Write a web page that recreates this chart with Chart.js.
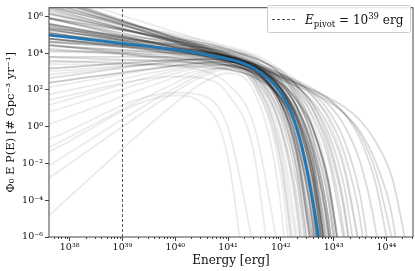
<!DOCTYPE html>
<html>
<head>
<meta charset="utf-8">
<script src="https://cdn.jsdelivr.net/npm/chart.js@4.4.1/dist/chart.umd.min.js"></script>
<style>
  html, body { margin: 0; padding: 0; background: #fff; }
  canvas { display: block; }
</style>
</head>
<body>
<canvas id="myChart" width="415" height="271"></canvas>
<script>
// energy grid shared by the posterior sample curves [erg]
const sampleEnergies = [4e37, 1e40, 3.2e40, 1e41, 3.2e41, 1e42, 2e42, 4e42, 8e42, 1.6e43, 3.2e43, 6.3e43, 1.3e44, 3.2e44];

// log10 of Phi0 E P(E) for each sample curve
const sampleLogRates = [
  [4.6, 4.1, 3.9, 3.7, 3.1, 1.5, -0.7, -5.1, -13.8],
  [5.3, 4.3, 4.1, 3.8, 3.3, 2.1, 0.6, -2.2, -7.8],
  [4.8, 4.0, 3.8, 3.6, 3.0, 1.5, -0.5, -4.5, -12.2],
  [5.6, 4.4, 4.1, 3.8, 3.3, 2.3, 1.1, -1.2, -5.7, -14.5],
  [4.4, 4.0, 3.9, 3.6, 3.0, 1.3, -1.2, -6.1],
  [5.1, 4.2, 4.0, 3.7, 3.2, 2.0, 0.35, -2.8, -9.0],
  [5.9, 4.5, 4.2, 3.8, 3.3, 2.4, 1.4, -0.5, -4.1, -11.1],
  [4.1, 3.9, 3.8, 3.5, 2.9, 1.0, -1.8, -7.3],
  [5.3, 4.2, 4.0, 3.65, 3.2, 2.1, 0.75, -1.8, -6.8],
  [4.8, 4.2, 4.0, 3.8, 3.2, 1.8, -0.2, -4.1, -11.9],
  [5.1, 4.1, 3.9, 3.6, 3.1, 1.9, 0.4, -2.4, -8.0],
  [6.3, 4.6, 4.2, 3.85, 3.4, 2.65, 1.9, 0.6, -1.8, -6.3],
  [3.8, 3.8, 3.7, 3.5, 2.8, 0.7, -2.3, -8.4],
  [5.6, 4.3, 4.0, 3.7, 3.2, 2.25, 1.1, -1.0, -5.0, -12.8],
  [4.8, 4.1, 3.9, 3.6, 3.0, 1.3, -0.9, -5.3, -14.1],
  [5.55, 4.35, 4.1, 3.8, 3.35, 2.6, 1.7, 0.0, -3.2, -9.5],
  [6.6, 4.7, 4.3, 3.9, 3.4, 2.75, 2.2, 1.25, -0.35, -3.3, -9.0],
  [3.5, 3.65, 3.65, 3.45, 2.75, 0.45, -3.0, -9.7],
  [5.9, 4.3, 4.0, 3.6, 3.1, 2.35, 1.45, -0.1, -3.0, -8.7],
  [5.4, 4.4, 4.15, 3.85, 3.3, 2.05, 0.4, -2.8, -9.0],
  [6.8, 4.7, 4.3, 3.85, 3.4, 2.8, 2.35, 1.65, 0.55, -1.45, -5.1, -12.2],
  [6.8, 4.65, 4.2, 3.75, 3.25, 2.75, 2.35, 1.9, 1.2, 0.05, -1.95, -5.65, -12.7],
  [7.1, 4.8, 4.35, 3.87, 3.38, 2.86, 2.5, 2.08, 1.52, 0.7, -0.68, -3.13, -7.73],
  [7.0, 4.6, 4.1, 3.6, 3.09, 2.56, 2.21, 1.83, 1.36, 0.71, -0.27, -1.94, -4.96, -13.6],
  [6.4, 4.62, 4.24, 3.83, 3.36, 2.69, 2.03, 0.95, -1.0, -4.66, -11.7],
  [7.0, 4.85, 4.4, 3.93, 3.45, 2.88, 2.44, 1.82, 0.87, -0.77, -3.76, -9.47],
  [6.47, 4.55, 4.14, 3.72, 3.26, 2.68, 2.16, 1.38, 0.05, -2.35, -6.91],
  [7.2, 4.8, 4.3, 3.8, 3.28, 2.75, 2.39, 1.98, 1.47, 0.73, -0.43, -2.45, -6.18],
  [2.83, 3.51, 3.56, 3.42, 2.63, -0.19, -4.42, -13.0],
  [2.15, 3.3, 3.43, 3.3, 2.37, -1.11, -6.4],
  [1.18, 3.05, 3.33, 3.35, 2.57, -0.76, -5.96, -16.6],
  [0.11, 2.68, 3.08, 3.16, 2.22, -1.93, -8.42],
  [3.02, 3.46, 3.48, 3.31, 2.58, 0.03, -3.76, -11.4],
  [-1.15, 2.38, 2.98, 3.26, 2.52, -1.43, -7.8],
  [-2.8, 1.91, 2.73, 3.13, 2.26, -2.66, -10.7],
  [-4.84, 1.29, 2.36, 2.91, 1.85, -4.3, -14.4],
  [0.79, 2.9, 3.25, 3.36, 2.76, -0.12, -4.7, -14.1],
  [2.64, 3.57, 3.69, 3.66, 3.11, 0.95, -2.36, -9.06],
  [-2.12, 2.12, 2.86, 3.23, 2.46, -1.92, -9.06],
  [1.76, 3.16, 3.36, 3.37, 2.73, 0.06, -4.08, -12.5],
  [6.14, 4.69, 4.36, 3.96, 3.37, 2.13, 0.58, -2.32, -7.94],
  [4.47, 3.74, 3.57, 3.34, 2.96, 2.06, 0.88, -1.37, -5.78, -14.5],
  [6.53, 4.84, 4.47, 4.04, 3.46, 2.36, 1.06, -1.31, -5.84, -14.7],
  [3.79, 3.54, 3.46, 3.31, 2.97, 1.98, 0.58, -2.17, -7.64],
  [4.15, 3.99, 3.89, 3.63, 2.86, 0.48, -2.97, -9.8],
  [6.92, 4.87, 4.43, 3.96, 3.38, 2.49, 1.55, -0.08, -3.05, -8.75],
  [-1.35, 1.7, 1.27, -1.71, -12.8],
  [-0.68, 1.86, 1.71, -0.05, -6.9],
  [7.1, 4.7, 4.2, 3.7, 3.19, 2.67, 2.35, 1.99, 1.58, 1.07, 0.33, -0.83, -2.85, -8.46],
  [6.63, 4.95, 4.58, 4.2, 3.73, 3.0, 2.25, 0.95, -1.42, -5.95, -14.8],
  [7.31, 5.15, 4.69, 4.22, 3.71, 3.08, 2.53, 1.72, 0.36, -2.07, -6.66],
  [5.95, 4.74, 4.47, 4.16, 3.73, 2.88, 1.87, 0.0, -3.58, -10.55],
  [5.22, 4.49, 4.31, 4.06, 3.62, 2.53, 1.07, -1.74, -7.27],
  [4.23, 3.73, 3.6, 3.38, 2.9, 1.62, -0.16, -3.65, -10.5],
  [3.4, 3.29, 3.06, 2.31, -0.05, -7.5],
  [1.46, 2.73, 2.65, 1.77, -1.66, -13.2],
  [3.17, 3.62, 3.66, 3.58, 3.08, 1.31, -1.35, -6.73],
  [5.5, 4.16, 3.85, 3.47, 2.86, 1.54, -0.16, -3.39, -9.62],
  [6.19, 4.62, 4.29, 3.93, 3.51, 2.89, 2.26, 1.21, -0.71, -4.34, -11.35],
  [2.39, 3.33, 3.48, 3.53, 3.26, 1.97, -0.07, -4.27, -12.8],
  [5.37, 4.63, 4.44, 4.16, 3.59, 2.11, 0.09, -3.85, -11.6],
  [4.47, 3.61, 3.41, 3.14, 2.67, 1.56, 0.08, -2.75, -8.29],
  [5.9, 4.81, 4.57, 4.27, 3.81, 2.84, 1.61, -0.69, -5.14, -13.9],
  [3.59, 3.34, 3.25, 3.1, 2.71, 1.61, 0.05, -3.04, -9.14],
  [4.98, 4.48, 4.32, 4.06, 3.43, 1.66, -0.83, -5.74, -15.5],
  [6.49, 5.04, 4.73, 4.37, 3.91, 3.08, 2.13, 0.42, -2.82, -9.07],
  [5.15, 3.94, 3.67, 3.34, 2.86, 1.86, 0.62, -1.69, -6.16],
  [4.64, 4.25, 4.11, 3.85, 3.18, 1.24, -1.53, -7.02]
];

// median curve (blue)
const medianEnergies = [4e37, 1e38, 3.2e38, 1e39, 3.2e39, 1e40, 3.2e40, 1e41, 1.8e41, 3.2e41, 5.6e41, 1e42, 1.6e42, 2.5e42, 3.5e42, 5e42, 6.3e42];
const medianLogRates = [4.99, 4.86, 4.70, 4.54, 4.37, 4.19, 3.96, 3.68, 3.49, 3.16, 2.66, 1.82, 0.74, -1.1, -3.1, -5.7, -8.0];

const pivotEnergy = 1e39;

// axis ranges and tick labels (exponents of 10)
const xRange = [4.06e37, 3.19e44];
const yRange = [1e-6, 3.0e6];
const xTickExponents = [38, 39, 40, 41, 42, 43, 44];
const yTickExponents = [-6, -4, -2, 0, 2, 4, 6];

const SUP = {'-': '\u207B', '0': '\u2070', '1': '\u00B9', '2': '\u00B2', '3': '\u00B3',
  '4': '\u2074', '5': '\u2075', '6': '\u2076', '7': '\u2077', '8': '\u2078', '9': '\u2079'};
function powLabel(v) {
  const e = Math.round(Math.log10(v));
  return '10' + String(e).split('').map(c => SUP[c]).join('');
}

const SERIF = "'DejaVu Serif', serif";

// curves close to the median overlap a lot, so give them more ink
const med41 = medianLogRates[medianEnergies.indexOf(1e41)];
const med42 = medianLogRates[medianEnergies.indexOf(1e42)];

const datasets = [];
sampleLogRates.forEach(rates => {
  const dev = Math.max(Math.abs(rates[3] - med41), Math.abs(rates[5] - med42) / 2);
  const alpha = dev < 0.3 ? 0.22 : (dev < 0.6 ? 0.14 : 0.08);
  datasets.push({
    data: rates.map((r, i) => ({ x: sampleEnergies[i], y: Math.pow(10, r) })),
    borderColor: 'rgba(0,0,0,' + alpha + ')',
    borderWidth: 1.8,
    pointRadius: 0,
    cubicInterpolationMode: 'monotone',
    order: 2
  });
});
datasets.push({
  data: [{ x: pivotEnergy, y: yRange[0] }, { x: pivotEnergy, y: yRange[1] }],
  borderColor: '#555',
  borderWidth: 1,
  borderDash: [3, 2],
  pointRadius: 0,
  order: 1
});
datasets.push({
  data: medianLogRates.map((r, i) => ({ x: medianEnergies[i], y: Math.pow(10, r) })),
  borderColor: '#1f77b4',
  borderWidth: 2.8,
  pointRadius: 0,
  cubicInterpolationMode: 'monotone',
  order: 0
});

// frame, minor ticks and the legend box
const decorations = {
  id: 'decorations',
  afterDraw(chart) {
    const { ctx, chartArea: a, scales } = chart;
    ctx.save();
    ctx.strokeStyle = '#444';
    ctx.lineWidth = 1;
    ctx.strokeRect(a.left, a.top, a.right - a.left, a.bottom - a.top);

    // minor ticks on the energy axis
    ctx.beginPath();
    for (let n = 37; n <= 44; n++) {
      for (let m = 2; m <= 9; m++) {
        const v = m * Math.pow(10, n);
        if (v < xRange[0] || v > xRange[1]) continue;
        const px = Math.round(scales.x.getPixelForValue(v)) + 0.5;
        ctx.moveTo(px, a.bottom);
        ctx.lineTo(px, a.bottom + 2);
      }
    }
    ctx.stroke();

    // legend
    const bx = a.right - 146, by = 5, bw = 143, bh = 27;
    ctx.beginPath();
    ctx.roundRect(bx + 0.5, by + 0.5, bw, bh, 2);
    ctx.fillStyle = 'rgba(255,255,255,0.85)';
    ctx.fill();
    ctx.strokeStyle = '#ccc';
    ctx.stroke();

    ctx.beginPath();
    ctx.setLineDash([3, 2]);
    ctx.strokeStyle = '#555';
    ctx.moveTo(bx + 5, by + 14.5);
    ctx.lineTo(bx + 29, by + 14.5);
    ctx.stroke();
    ctx.setLineDash([]);

    ctx.fillStyle = '#111';
    ctx.textBaseline = 'alphabetic';
    let tx = bx + 38;
    const base = by + 19;
    const parts = [
      ['italic 12px ' + SERIF, 'E', 0],
      ['8.5px ' + SERIF, 'pivot', 3],
      ['12px ' + SERIF, ' = 10', 0],
      ['8.5px ' + SERIF, '39', -5],
      ['12px ' + SERIF, ' erg', 0]
    ];
    parts.forEach(([font, txt, dy]) => {
      ctx.font = font;
      ctx.fillText(txt, tx, base + dy);
      tx += ctx.measureText(txt).width;
    });
    ctx.restore();
  }
};

const ctx = document.getElementById('myChart').getContext('2d');
const myChart = new Chart(ctx, {
  type: 'line',
  data: { datasets: datasets },
  options: {
    responsive: false,
    animation: false,
    devicePixelRatio: 1,
    events: [],
    layout: { padding: { top: 2, right: 2, left: 0, bottom: 0 } },
    plugins: { legend: { display: false }, tooltip: { enabled: false } },
    scales: {
      x: {
        type: 'logarithmic',
        min: xRange[0],
        max: xRange[1],
        afterBuildTicks: s => { s.ticks = xTickExponents.map(e => ({ value: Math.pow(10, e) })); },
        afterFit: s => { s.height = 34; },
        border: { display: false },
        grid: { drawOnChartArea: false, tickLength: 4, color: '#444' },
        ticks: {
          callback: v => powLabel(v),
          font: { family: SERIF, size: 9.5 },
          color: '#111',
          padding: 1,
          maxRotation: 0,
          autoSkip: false
        },
        title: {
          display: true,
          text: 'Energy [erg]',
          font: { family: SERIF, size: 12 },
          color: '#111',
          padding: { top: 0, bottom: 3 }
        }
      },
      y: {
        type: 'logarithmic',
        min: yRange[0],
        max: yRange[1],
        afterBuildTicks: s => { s.ticks = yTickExponents.map(e => ({ value: Math.pow(10, e) })); },
        afterFit: s => { s.width = 49; },
        border: { display: false },
        grid: { drawOnChartArea: false, tickLength: 4, color: '#444' },
        ticks: {
          callback: v => powLabel(v),
          font: { family: SERIF, size: 9.5 },
          color: '#111',
          padding: 2,
          autoSkip: false
        },
        title: {
          display: true,
          text: '\u03A6\u2080 E P(E) [# Gpc\u207B\u00B3 yr\u207B\u00B9]',
          font: { family: SERIF, size: 11.5 },
          color: '#111',
          padding: { top: 4, bottom: 0 }
        }
      }
    }
  },
  plugins: [decorations]
});
</script>
</body>
</html>
